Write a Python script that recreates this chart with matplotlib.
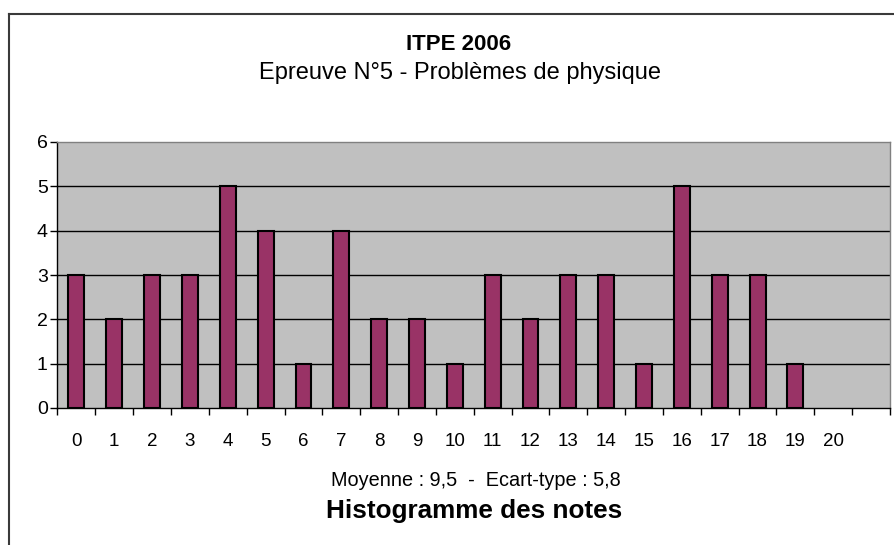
import numpy as np
import matplotlib
matplotlib.use("Agg")
import matplotlib.pyplot as plt
from matplotlib.lines import Line2D

plt.rcParams["font.family"] = ["Liberation Sans", "DejaVu Sans"]

# data
notes = [str(i) for i in range(21)] + [""]
effectifs = [3, 2, 3, 3, 5, 4, 1, 4, 2, 2, 1, 3, 2, 3, 3, 1, 5, 3, 3, 1, 0, 0]
y_ticks = [0, 1, 2, 3, 4, 5, 6]

titre = "ITPE 2006"
sous_titre = "Epreuve N°5 - Problèmes de physique"
stats = "Moyenne : 9,5  -  Ecart-type : 5,8"
titre_x = "Histogramme des notes"

W, H = 895, 545
fig = plt.figure(figsize=(W / 100, H / 100), dpi=100)
fig.patch.set_facecolor("white")

# outer chart frame (cut off on the right and bottom)
frame_kw = dict(color="#3a3a3a", linewidth=1.5, transform=fig.transFigure)
fig.add_artist(Line2D([8.5 / W, 8.5 / W], [0, 1 - 13.5 / H], **frame_kw))
fig.add_artist(Line2D([8.5 / W, 1], [1 - 13.5 / H, 1 - 13.5 / H], **frame_kw))

# plot area in pixels
px_l, px_r, px_t, px_b = 57.5, 890, 142, 408
ax = fig.add_axes([px_l / W, 1 - px_b / H, (px_r - px_l) / W, (px_b - px_t) / H])
ax.set_facecolor("#c0c0c0")

x = np.arange(len(notes))
eff = np.array(effectifs)
keep = eff > 0  # empty classes show no bar at all
ax.bar(x[keep], eff[keep], width=0.42, color="#993366", edgecolor="black", linewidth=1.5, zorder=3)

for v in y_ticks[1:-1]:
    ax.axhline(v, color="black", linewidth=1, zorder=1)

ax.set_xlim(-0.5, len(notes) - 0.5)
ax.set_ylim(0, 6)

# ticks on boundaries, labels at centres
ax.set_xticks(np.arange(len(notes) + 1) - 0.5)
ax.set_xticklabels([])
ax.set_xticks(x, minor=True)
ax.set_xticklabels(notes, minor=True, fontsize=13.5)
ax.tick_params(axis="x", which="major", direction="out", length=5, width=1, color="black")
ax.tick_params(axis="x", which="minor", length=0, pad=18)

ax.set_yticks(y_ticks)
ax.set_yticklabels([str(v) for v in y_ticks], fontsize=14)
ax.tick_params(axis="y", direction="out", length=5, width=1, pad=2)

for side in ["top", "right"]:
    ax.spines[side].set_color("#808080")
    ax.spines[side].set_linewidth(1)
for side in ["left", "bottom"]:
    ax.spines[side].set_color("black")
    ax.spines[side].set_linewidth(1)

# titles
fig.text(459 / W, 1 - 45 / H, titre, ha="center", va="center", fontsize=16, fontweight="bold")
fig.text(460 / W, 1 - 73 / H, sous_titre, ha="center", va="center", fontsize=17)
fig.text(476 / W, 1 - 481 / H, stats, ha="center", va="center", fontsize=14.3)
fig.text(474 / W, 1 - 511 / H, titre_x, ha="center", va="center", fontsize=18.8, fontweight="bold")

fig.savefig("out.png", dpi=100)
